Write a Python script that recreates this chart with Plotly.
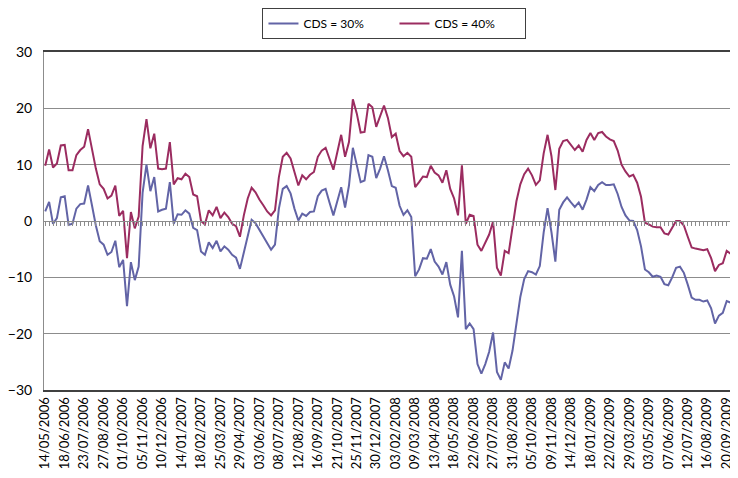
import pandas as pd
import plotly.graph_objects as go

# weekly observations starting 14/05/2006
start_date = "2006-05-14"

cds_30 = [
    1.7, 3.4, -0.5, 0.5, 4.2, 4.4, -0.7, -0.5, 2.2, 3.0,
    3.1, 6.3, 2.8, -0.8, -3.6, -4.2, -6.0, -5.5, -3.5, -8.2,
    -6.9, -15.1, -7.3, -10.5, -8.1, 5.0, 10.0, 5.3, 7.8, 1.7,
    2.0, 2.2, 6.9, -0.5, 1.2, 1.1, 1.9, 1.3, -1.2, -1.6,
    -5.4, -6.0, -3.8, -4.8, -3.5, -5.4, -4.5, -5.1, -6.0, -6.5,
    -8.5, -5.5, -2.4, 0.2, -0.4, -1.6, -2.8, -3.9, -5.1, -4.2,
    2.2, 5.7, 6.2, 4.9, 2.2, 0.1, 1.3, 0.9, 1.6, 1.7,
    4.4, 5.4, 5.7, 3.3, 1.0, 3.5, 6.0, 2.4, 6.3, 13.0,
    9.9, 6.9, 7.2, 11.7, 11.4, 7.6, 9.3, 11.5, 9.0, 6.2,
    5.9, 2.7, 1.1, 1.9, 0.7, -9.8, -8.6, -6.6, -6.7, -5.0,
    -7.2, -8.1, -9.5, -7.3, -11.3, -13.4, -17.1, -5.3, -19.2, -18.2,
    -19.2, -25.4, -27.1, -25.4, -23.2, -19.8, -26.8, -28.2, -25.1, -26.2,
    -23.0, -18.0, -13.5, -10.3, -8.9, -9.1, -9.5, -8.0, -2.0, 2.3,
    -2.0, -7.2, 2.0, 3.3, 4.2, 3.3, 2.5, 3.3, 2.0, 3.8,
    6.0, 5.3, 6.4, 6.9, 6.4, 6.4, 6.5, 4.8, 2.5, 1.0,
    0.1, 0.0, -1.6, -4.5, -8.6, -9.1, -9.9, -9.7, -9.9, -11.2,
    -11.4, -10.0, -8.3, -8.1, -9.2, -11.3, -13.6, -14.0, -14.0, -14.3,
    -14.1, -15.5, -18.2, -16.8, -16.3, -14.2, -14.5, -15.9,
]

cds_40 = [
    9.8, 12.7, 9.5, 10.2, 13.4, 13.5, 9.0, 9.0, 11.7, 12.6,
    13.2, 16.3, 12.8, 9.3, 6.5, 5.7, 4.0, 4.5, 6.3, 0.9,
    1.8, -6.6, 1.6, -1.3, 0.8, 13.3, 18.1, 12.9, 15.5, 9.3,
    9.2, 9.3, 14.0, 6.5, 7.6, 7.4, 8.4, 7.8, 4.7, 4.4,
    0.0, -0.6, 1.9, 1.0, 2.5, 0.5, 1.5, 0.7, -0.5, -0.9,
    -2.8, 1.0, 4.0, 5.9, 5.1, 3.8, 2.8, 1.7, 1.0, 1.9,
    7.8, 11.4, 12.1, 11.1, 8.7, 6.3, 8.1, 7.4, 8.2, 8.7,
    11.4, 12.5, 13.0, 11.1, 9.1, 12.2, 15.3, 11.4, 14.0, 21.6,
    19.1, 15.7, 15.8, 20.8, 20.2, 16.7, 18.6, 20.5, 18.3, 14.9,
    15.5, 12.4, 11.5, 12.1, 11.4, 6.0, 6.9, 7.9, 7.8, 9.8,
    8.6, 8.1, 6.8, 9.0, 5.7, 4.0, 1.0, 9.9, -0.5, 1.1,
    0.9, -4.2, -5.3, -3.8, -2.4, -0.1, -8.3, -9.7, -5.3, -5.7,
    -1.0, 3.5, 6.5, 8.3, 9.3, 8.1, 6.4, 7.2, 12.0, 15.3,
    11.5, 5.5, 12.8, 14.2, 14.4, 13.6, 12.6, 13.4, 12.3, 14.4,
    15.6, 14.4, 15.6, 15.8, 15.0, 14.5, 14.2, 12.5, 10.0, 8.8,
    7.9, 8.2, 6.8, 4.3, -0.3, -0.6, -1.0, -1.1, -1.1, -2.2,
    -2.4, -1.2, 0.0, 0.0, -0.8, -2.8, -4.7, -4.9, -5.0, -5.2,
    -5.0, -6.6, -8.9, -7.8, -7.5, -5.3, -5.8, -7.3,
]

dates = pd.date_range(start_date, periods=len(cds_30), freq="7D")
tick_dates = dates[::5][:36]
tick_text = [d.strftime("%d/%m/%Y") for d in tick_dates]

x_range = [dates[0] - pd.Timedelta(days=2.2), dates[0] + pd.Timedelta(days=177.9 * 7)]

fig = go.Figure()
fig.add_trace(go.Scatter(
    x=dates, y=cds_30, mode="lines", name="CDS = 30%",
    line=dict(color="#6264a6", width=2)
))
fig.add_trace(go.Scatter(
    x=dates, y=cds_40, mode="lines", name="CDS = 40%",
    line=dict(color="#9b2c60", width=2)
))
# helper trace so the zero-line tick axis is drawn
fig.add_trace(go.Scatter(
    x=dates, y=[None] * len(dates), xaxis="x2", mode="lines",
    showlegend=False, hoverinfo="skip"
))

# page body adds an 8px margin, so the figure is 730x470
fig.update_layout(
    width=730, height=470,
    margin=dict(l=30, r=0, t=41, b=88),
    paper_bgcolor="white", plot_bgcolor="white",
    font=dict(family="Lato", size=13, color="black"),
    legend=dict(
        orientation="h", x=0.505, xanchor="center", y=1.13, yanchor="top",
        bordercolor="#404040", borderwidth=1, font=dict(size=12),
        itemwidth=30, entrywidth=86
    ),
    xaxis=dict(
        type="date", range=x_range,
        tickmode="array", tickvals=tick_dates, ticktext=tick_text,
        tickangle=-90, showgrid=False, ticks="",
        showline=True, linecolor="#404040", linewidth=2, mirror=True,
        zeroline=False
    ),
    xaxis2=dict(
        type="date", range=x_range, overlaying="x", anchor="free",
        position=0.5, side="bottom",
        tickmode="array", tickvals=dates, ticks="outside", ticklen=4,
        tickcolor="#8c8c8c", showticklabels=False, showgrid=False,
        showline=True, linecolor="#8c8c8c", linewidth=1
    ),
    yaxis=dict(
        range=[-30, 30], dtick=10, showgrid=True, gridcolor="#8c8c8c",
        showline=True, linecolor="#8c8c8c", zeroline=False,
        ticklabelstandoff=8, tickfont=dict(size=14)
    ),
)

fig.write_html("out.html")
